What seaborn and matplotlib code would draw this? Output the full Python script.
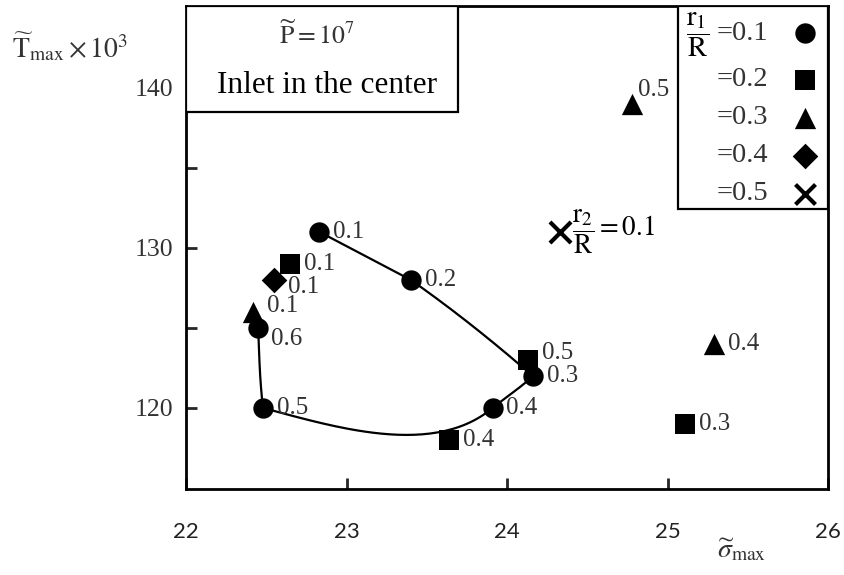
import numpy as np
import pandas as pd
import matplotlib
matplotlib.use("Agg")
import matplotlib.pyplot as plt
import seaborn as sns
from matplotlib.patches import Rectangle

# Each point: inlet ratio r1/R (marker group), outlet ratio r2/R (point label),
# maximum dimensionless stress and maximum temperature (x 10^3)
r1_ratio = [0.1, 0.1, 0.1, 0.1, 0.1, 0.1, 0.2, 0.2, 0.2, 0.2, 0.3, 0.3, 0.3, 0.4, 0.5]
r2_ratio = [0.1, 0.2, 0.3, 0.4, 0.5, 0.6, 0.1, 0.5, 0.4, 0.3, 0.1, 0.5, 0.4, 0.1, 0.1]
sigma_max = [22.83, 23.40, 24.16, 23.91, 22.48, 22.45,
             22.65, 24.13, 23.64, 25.11,
             22.42, 24.78, 25.29,
             22.55,
             24.33]
t_max = [131, 128, 122, 120, 120, 125,
         129, 123, 118, 119,
         126, 139, 124,
         128,
         131]

x_ticks = [22, 23, 24, 25, 26]
y_ticks = [120, 125, 130, 135, 140]
y_tick_labels = ["120", "", "130", "", "140"]
legend_groups = [0.1, 0.2, 0.3, 0.4, 0.5]

df = pd.DataFrame({"r1": r1_ratio, "r2": r2_ratio, "sigma": sigma_max, "T": t_max})

# marker style per r1/R group
markers = {0.1: "o", 0.2: "s", 0.3: "^", 0.4: "D", 0.5: "x"}
sizes = {0.1: 215, 0.2: 215, 0.3: 235, 0.4: 170, 0.5: 230}

# label offsets (points) for individual points, default is right of marker
label_offset = {
    (0.1, 0.6): (9, -8),
    (0.2, 0.5): (10, 5),
    (0.3, 0.1): (10, 4),
    (0.3, 0.5): (4, 10),
    (0.4, 0.1): (10, -5),
}

# tangent directions (degrees, screen space) for the r1/R = 0.1 guide curve segments
curve_tangents = [(None, None), (-35, -41), (-135, -140), (-140, 165), (97, 92)]

sns.set_theme(style="white")
plt.rcParams["font.family"] = ["Liberation Serif", "DejaVu Serif"]
plt.rcParams["mathtext.fontset"] = "stix"

fig = plt.figure(figsize=(8.44, 5.75), dpi=100)
ax = fig.add_axes([186 / 844, 1 - 489 / 575, 642 / 844, 483 / 575])
ax.set_xlim(22, 26)
ax.set_ylim(114.94, 145.1)

txt_color = "#333333"

# smooth guide curve through the r1/R = 0.1 points (ordered by r2/R)
base = df[df.r1 == 0.1].sort_values("r2")
pts = ax.transData.transform(base[["sigma", "T"]].to_numpy())
curve = []
for i in range(len(pts) - 1):
    p0, p1 = pts[i], pts[i + 1]
    chord = p1 - p0
    L = np.hypot(*chord)
    a0, a1 = curve_tangents[i]
    if a0 is None:
        a0 = a1 = np.degrees(np.arctan2(chord[1], chord[0]))
    t0 = L * np.array([np.cos(np.radians(a0)), np.sin(np.radians(a0))])
    t1 = L * np.array([np.cos(np.radians(a1)), np.sin(np.radians(a1))])
    t = np.linspace(0, 1, 60)[:, None]
    h00 = 2 * t**3 - 3 * t**2 + 1
    h10 = t**3 - 2 * t**2 + t
    h01 = -2 * t**3 + 3 * t**2
    h11 = t**3 - t**2
    seg = h00 * p0 + h10 * t0 + h01 * p1 + h11 * t1
    curve.append(seg if i == 0 else seg[1:])
curve = ax.transData.inverted().transform(np.vstack(curve))
curve_df = pd.DataFrame({"sigma": curve[:, 0], "T": curve[:, 1]})
sns.lineplot(data=curve_df, x="sigma", y="T", sort=False, estimator=None,
             color="black", lw=1.6, ax=ax, zorder=2)

# markers for each r1/R group
for g in legend_groups:
    sub = df[df.r1 == g]
    if markers[g] == "x":
        sns.scatterplot(data=sub, x="sigma", y="T", marker="x", s=sizes[g],
                        color="black", linewidth=3, ax=ax, zorder=4)
    else:
        sns.scatterplot(data=sub, x="sigma", y="T", marker=markers[g], s=sizes[g],
                        color="black", edgecolor="black", linewidth=0, ax=ax, zorder=4)

# r2/R labels next to points
for r1, r2, x, y in zip(r1_ratio, r2_ratio, sigma_max, t_max):
    if r1 == 0.5:
        ax.annotate(r"$\dfrac{\mathrm{r}_2}{\mathrm{R}}=%.1f$" % r2, (x, y),
                    xytext=(9, 0), textcoords="offset points", ha="left",
                    va="center", fontsize=19.5, color="black", zorder=5)
        continue
    dx, dy = label_offset.get((r1, r2), (10, 0))
    ax.annotate(f"{r2:.1f}", (x, y), xytext=(dx, dy), textcoords="offset points",
                ha="left", va="center", fontsize=18, color=txt_color, zorder=5)

# axes styling
ax.set_xticks(x_ticks)
ax.set_xticklabels([str(v) for v in x_ticks], fontfamily="Lato", fontsize=16, color="#222222")
ax.set_yticks(y_ticks)
ax.set_yticklabels(y_tick_labels, fontsize=18.5, color=txt_color)
ax.tick_params(axis="x", direction="in", length=8, width=2, pad=24, bottom=True)
ax.tick_params(axis="y", direction="in", length=8, width=2, pad=9, left=True)
for side in ["left", "right", "top", "bottom"]:
    ax.spines[side].set_visible(True)
    ax.spines[side].set_color("black")
    ax.spines[side].set_linewidth(2)
ax.set_xlabel("")
ax.set_ylabel("")

# info box top-left
ax.add_patch(Rectangle((0, 0.7805), 0.4237, 0.2195, transform=ax.transAxes,
                       facecolor="white", edgecolor="black", lw=1.6, zorder=3))
ax.text(0.204, 0.94, r"$\widetilde{\mathrm{P}}=10^{7}$", transform=ax.transAxes,
        ha="center", va="center", fontsize=18.5, color=txt_color, zorder=5)
ax.text(0.2196, 0.835, "Inlet in the center", transform=ax.transAxes,
        ha="center", va="center", fontsize=22.5, color="black", zorder=5)

# legend box top-right
ax.add_patch(Rectangle((0.7664, (489 - 209) / 483), 1 - 0.7664, 1 - (489 - 209) / 483,
                       transform=ax.transAxes, facecolor="white", edgecolor="black",
                       lw=1.6, zorder=3))
row_px = [33, 80, 118, 156, 194]
for g, py in zip(legend_groups, row_px):
    ya = (489 - py) / 483
    ax.text((717 - 186) / 642, ya, f"={g:.1f}", transform=ax.transAxes,
            ha="left", va="center", fontsize=20.5, color=txt_color, zorder=5)
    if markers[g] == "x":
        ax.scatter([(805 - 186) / 642], [ya], marker="x", s=sizes[g] * 0.9,
                   color="black", linewidths=3, transform=ax.transAxes, zorder=5,
                   clip_on=False)
    else:
        ax.scatter([(805 - 186) / 642], [ya], marker=markers[g], s=sizes[g],
                   color="black", linewidths=0, transform=ax.transAxes, zorder=5,
                   clip_on=False)
ax.text((698 - 186) / 642, (489 - 35) / 483, r"$\dfrac{\mathrm{r}_1}{\mathrm{R}}$",
        transform=ax.transAxes, ha="center", va="center", fontsize=20.5,
        color="black", zorder=5)

# axis titles
fig.text(12 / 844, 1 - 47 / 575, r"$\widetilde{\mathrm{T}}_{\mathrm{max}}\times10^{3}$",
         ha="left", va="center", fontsize=20, color=txt_color)
fig.text(742 / 844, 1 - 550 / 575, r"$\widetilde{\sigma}_{\mathrm{max}}$",
         ha="center", va="center", fontsize=20, color=txt_color)

fig.savefig("out.png", dpi=100)
